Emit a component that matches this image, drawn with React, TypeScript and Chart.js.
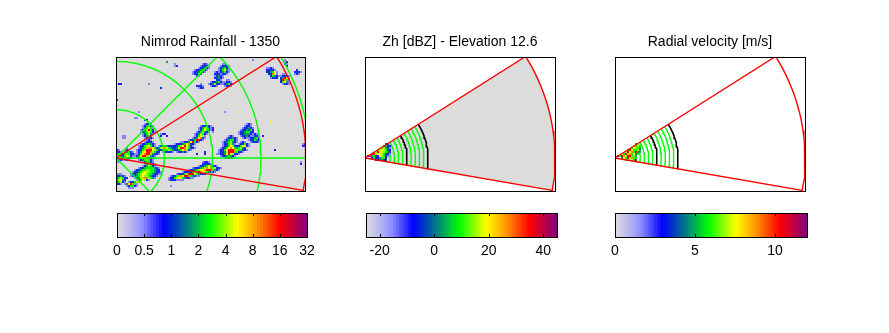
import React, { useEffect, useRef } from "react";
import { Chart, registerables } from "chart.js";

Chart.register(...registerables);

// ---- titles and tick labels ----
const rainTitle = "Nimrod Rainfall - 1350";
const zhTitle = "Zh [dBZ] - Elevation 12.6";
const velTitle = "Radial velocity [m/s]";
const rainTickLabels = ["0", "0.5", "1", "2", "4", "8", "16", "32"];
const rainTickValues = [0, 1, 2, 3, 4, 5, 6, 7];
const zhTickValues = [-20, 0, 20, 40];
const velTickValues = [0, 5, 10];

// ---- colour scale ----
const colourStops: [number, number, number, number][] = [
  [0, 220, 220, 220],
  [0.05, 195, 195, 235],
  [0.13, 145, 145, 255],
  [0.245, 0, 0, 255],
  [0.37, 0, 128, 128],
  [0.487, 0, 255, 0],
  [0.627, 255, 255, 0],
  [0.74, 255, 140, 0],
  [0.856, 255, 0, 0],
  [1, 128, 0, 128],
];
const bandCount = 64;
const levelPositions = [0, 0.14, 0.22, 0.31, 0.4, 0.49, 0.57, 0.63, 0.74, 0.86];

// ---- radar geometry ----
const fanTopAngle = 32.3;
const fanBottomAngle = -9.8;
const fanRadius = 190;
const rainRings = [48.3, 96.6, 145, 193.3];
const rainSpokes = [0, 45, -45];
const scanBlackRings = [21, 42, 63];
const scanGreenRings = [25.2, 29.4, 33.6, 37.8, 46.2, 50.4, 54.6, 58.8];

// ---- rain cells: [first column, first row, rows of levels] ----
type Blob = [number, number, string[]];
const rainBlobs: Blob[] = [
  [0, 33, [
    "..............1231",
    ".............124531.......................123421",
    ".............135751......................1246631",
    "............1346953......................1357521",
    "............12457521....................1246421",
    ".............135641...122..............1246521",
    ".............12451....2..2.............125761",
    "..............13421...................1347831",
    "...............121..................12359921",
    "..............12231.............1123479521",
    "............12345421.........12234578321",
    "...........123567531.134543322356797531",
    "...........12456887534678754334699875321",
    "..........1235699976533455654334578631",
    "..........124679986532.133221.123421",
    "..........135789964321",
    ".........12479986421",
    "..........1357764211",
    "...........13456521",
    ".............135531",
    "..............146521",
    ".............1346531",
    "...........12345555421",
    ".........1234556655432",
    "........123456766554321",
    ".......1234567765543211",
    ".......12345676654321",
    ".........13456886541",
    "...........123321",
  ]],
  [0, 45, [".....1", "21..131", "321.14521", "4523565321", "654357631", "976443221", "5421121", "11"]],
  [0, 58, ["111", "23421", "356523....14651", "46742.....135761", "25621.1235686", "231.1479851", ".....125521", "......111"]],
  [26, 52, [
    ".................1221",
    ".................22321",
    "...............1234575321",
    "............122345687866321",
    "..........1234567789998421",
    ".......12233568987654321",
    "....123356999754322",
    ".123568799854211",
    "1235677543211",
    "12321111",
  ]],
  [50, 39, [
    "......121",
    ".....123421",
    "....1245521",
    "...12456421.121",
    "...1235641.123521",
    "...12357632357721",
    "..1235787545642",
    ".123579998655321",
    ".1234699985321",
    "112347976321",
    "..12345421",
    "....12321",
  ]],
  [61, 33, ["....121", "...1231", "..123421", ".1234352", "12345532", "1234442", ".123421", "..1211"]],
  [66, 38, ["..121", "..1321", "123452", "123542", ".12321"]],
  [38, 3, [".....121", "....12321", "...123421", ".1234531", "1234631", "12352", "..21"]],
  [51, 3, ["..11", ".12321", "124531", "135741", "124521", ".1221"]],
  [46, 7, ["...121", "...2321", "...13421", "...23421", "....321", ".1234521", "1246321", ".1221"]],
  [53, 11, ["..11", ".1221", "124531", ".1221"]],
  [39, 13, ["...1", ".2321", "..123"]],
  [74, 5, [".1121", ".22321", ".234571", "..23871", "...35421", "...1232"]],
  [80, 8, ["...11", "..12321", "..24971", "..39851", "..25741", "...1231"]],
  [88, 6, ["..2", ".2321", ".121"]],
  [82, 1, ["..1", "..13", "..21", "...2"]],
  [29, 3, ["1", "12"]],
  [25, 2, ["4"]],
  [1, 13, ["22"]],
  [22, 15, ["3"]],
  [16, 13, ["1"]],
  [0, 21, ["2"]],
  [11, 27, ["1"]],
  [9, 30, ["11"]],
  [14, 31, ["22"]],
  [3, 39, ["11", "11"]],
  [48, 35, ["2", "2", "1"]],
  [44, 47, ["2", "3"]],
  [40, 48, ["2"]],
  [79, 46, ["2"]],
  [93, 43, ["12", "22"]],
  [92, 52, ["1", "2"]],
  [77, 32, ["7"]],
  [68, 1, ["1"]],
  [54, 27, ["1"]],
  [27, 64, ["1"]],
  [73, 39, ["2"]],
];
const zhBlobs: Blob[] = [
  [0, 43, [
    "..........33",
    ".........4432",
    "........56431",
    "......5676532",
    ".....69776542",
    "...9967765321",
    ".29452276521",
    "...25224552",
    ".....33442",
  ]],
];
const velBlobs: Blob[] = [
  [0, 43, [
    "..........46",
    ".........6565",
    "........57654",
    "......5975564",
    ".....69785944",
    "...759685745",
    ".2598699564",
    "...47596855",
    ".....56675",
  ]],
];

// ---- helpers ----
function colourAt(t: number): string {
  for (let i = 1; i < colourStops.length; i++) {
    const a = colourStops[i - 1];
    const b = colourStops[i];
    if (t <= b[0]) {
      const f = (t - a[0]) / (b[0] - a[0]);
      const c = [1, 2, 3].map((k) => Math.round(a[k] + (b[k] - a[k]) * f));
      return `rgb(${c[0]},${c[1]},${c[2]})`;
    }
  }
  return "rgb(128,0,128)";
}
function arc(r: number, from: number, to: number) {
  const pts: { x: number; y: number }[] = [];
  const steps = Math.max(6, Math.round(Math.abs(to - from) / 2));
  for (let i = 0; i <= steps; i++) {
    const a = ((from + ((to - from) * i) / steps) * Math.PI) / 180;
    pts.push({ x: r * Math.cos(a), y: r * Math.sin(a) });
  }
  return pts;
}
function line(data: any[], color: string, width = 1.4, extra: any = {}) {
  return {
    data, borderColor: color, borderWidth: width, pointRadius: 0, tension: 0,
    fill: false, showLine: true, ...extra,
  };
}
function blobDatasets(blobs: Blob[], yTop: number) {
  const byLevel: { x: number; y: number }[][] = levelPositions.map(() => []);
  blobs.forEach(([col, row, rows]) => {
    rows.forEach((text, r) => {
      [...text].forEach((ch, c) => {
        if (ch === ".") return;
        byLevel[Number(ch)].push({
          x: (col + c + 0.5) * 2,
          y: yTop - (row + r + 0.5) * 2,
        });
      });
    });
  });
  return byLevel
    .map((data, lv) => ({
      data,
      showLine: false,
      pointStyle: "rect",
      pointRadius: 1.45,
      pointBorderWidth: 0,
      pointBackgroundColor: colourAt(levelPositions[lv]),
      pointBorderColor: colourAt(levelPositions[lv]),
    }))
    .filter((d) => d.data.length > 0);
}
function fanOutline() {
  return [{ x: 0, y: 0 }, ...arc(fanRadius, fanTopAngle, fanBottomAngle), { x: 0, y: 0 }];
}

// bottom-most first, "order" makes Chart.js paint them in that sequence
function stacked(list: any[]) {
  return list.map((d, i) => ({ ...d, order: list.length - i }));
}

const framePlugin = (bg: string | null) => ({
  id: "frame",
  beforeDatasetsDraw(chart: any) {
    if (!bg) return;
    const a = chart.chartArea;
    chart.ctx.save();
    chart.ctx.fillStyle = bg;
    chart.ctx.fillRect(a.left, a.top, a.width, a.height);
    chart.ctx.restore();
  },
  afterDraw(chart: any) {
    const a = chart.chartArea;
    const ctx = chart.ctx;
    ctx.save();
    ctx.strokeStyle = "#000";
    ctx.lineWidth = 1;
    ctx.strokeRect(a.left + 0.5, a.top + 0.5, a.width, a.height);
    ctx.restore();
  },
});

const insideTicks = (values: number[]) => ({
  id: "insideTicks",
  afterDraw(chart: any) {
    const a = chart.chartArea;
    const s = chart.scales.x;
    const ctx = chart.ctx;
    ctx.save();
    ctx.strokeStyle = "#000";
    ctx.lineWidth = 1;
    ctx.beginPath();
    values.forEach((v) => {
      const x = Math.round(s.getPixelForValue(v)) + 0.5;
      ctx.moveTo(x, a.top);
      ctx.lineTo(x, a.top + 3);
      ctx.moveTo(x, a.bottom);
      ctx.lineTo(x, a.bottom - 3);
    });
    ctx.stroke();
    ctx.restore();
  },
});

const fontFamily = "'Liberation Sans', Arial, sans-serif";

function panelConfig(title: string, width: number, datasets: any[], bg: string | null) {
  return {
    type: "line",
    data: { datasets: stacked(datasets) },
    plugins: [framePlugin(bg)],
    options: {
      animation: false,
      responsive: false,
      events: [],
      layout: { padding: { left: 20, right: 20, bottom: 2, top: 0 } },
      plugins: {
        legend: { display: false },
        tooltip: { enabled: false },
        title: {
          display: true,
          text: title,
          color: "#000",
          font: { family: fontFamily, size: 14, weight: "normal", lineHeight: 1 },
          padding: { top: 5, bottom: 8 },
        },
      },
      scales: {
        x: { type: "linear", display: false, min: 0, max: width },
        y: { type: "linear", display: false, min: -33, max: 101 },
      },
    },
  };
}

function barConfig(min: number, max: number, ticks: number[], labels: string[] | null) {
  const step = (max - min) / bandCount;
  const datasets = Array.from({ length: bandCount }, (_, i) => ({
    data: [[min + i * step, min + (i + 1) * step + step * 0.02]],
    backgroundColor: colourAt((i + 0.5) / bandCount),
    borderWidth: 0,
    barPercentage: 1,
    categoryPercentage: 1,
    grouped: false,
  }));
  return {
    type: "bar",
    data: { labels: [""], datasets },
    plugins: [framePlugin(null), insideTicks(ticks)],
    options: {
      animation: false,
      responsive: false,
      events: [],
      indexAxis: "y",
      layout: { padding: { left: 20, right: 20, top: 2, bottom: 0 } },
      plugins: { legend: { display: false }, tooltip: { enabled: false }, title: { display: false } },
      scales: {
        y: { display: false, stacked: false },
        x: {
          type: "linear",
          min,
          max,
          border: { display: false },
          grid: { display: false, drawTicks: false },
          afterBuildTicks: (s: any) => {
            s.ticks = ticks.map((value) => ({ value }));
          },
          afterFit: (s: any) => {
            s.height = 22;
          },
          ticks: {
            autoSkip: false,
            maxRotation: 0,
            padding: 6,
            color: "#000",
            font: { family: fontFamily, size: 14 },
            callback: (v: number) => {
              if (labels) return labels[ticks.indexOf(v)];
              return String(v);
            },
          },
        },
      },
    },
  };
}

function ChartCanvas({ left, top, width, height, config }: any) {
  const ref = useRef<HTMLCanvasElement>(null);
  useEffect(() => {
    const chart = new Chart(ref.current as any, config() as any);
    return () => chart.destroy();
  }, []);
  return (
    <canvas
      ref={ref}
      width={width}
      height={height}
      style={{ position: "absolute", left, top, width, height, display: "block" }}
    />
  );
}

function rainDatasets() {
  return [
    ...blobDatasets(rainBlobs, 101),
    ...rainRings.map((r) => line(arc(r, -90, 90), "#00ff00")),
    ...rainSpokes.map((a) => line(arc(220, a, a).slice(0, 1).concat([{ x: 0, y: 0 }]), "#00ff00")),
    line(fanOutline(), "#ff0000"),
  ];
}
function scanDatasets(blobs: Blob[], grey: boolean) {
  return [
    ...(grey
      ? [line(fanOutline(), "rgba(0,0,0,0)", 0, { fill: "shape", backgroundColor: "#dcdcdc" })]
      : []),
    ...scanGreenRings.map((r) => line(arc(r, fanBottomAngle, fanTopAngle), "#00ff00")),
    ...scanBlackRings.map((r) => line(arc(r, fanBottomAngle, fanTopAngle), "#000000", 1.6)),
    ...blobDatasets(blobs, 101),
    line(fanOutline(), "#ff0000"),
  ];
}

export default function App() {
  return (
    <div>
      <ChartCanvas left={96} top={30} width={229} height={165}
        config={() => panelConfig(rainTitle, 189, rainDatasets(), "#dcdcdc")} />
      <ChartCanvas left={345} top={30} width={230} height={165}
        config={() => panelConfig(zhTitle, 190, scanDatasets(zhBlobs, true), null)} />
      <ChartCanvas left={595} top={30} width={230} height={165}
        config={() => panelConfig(velTitle, 190, scanDatasets(velBlobs, false), null)} />
      <ChartCanvas left={97} top={211} width={230} height={48}
        config={() => barConfig(0, 7, rainTickValues, rainTickLabels)} />
      <ChartCanvas left={346} top={211} width={231} height={48}
        config={() => barConfig(-25, 45, zhTickValues, null)} />
      <ChartCanvas left={595} top={211} width={232} height={48}
        config={() => barConfig(0, 12, velTickValues, null)} />
    </div>
  );
}
